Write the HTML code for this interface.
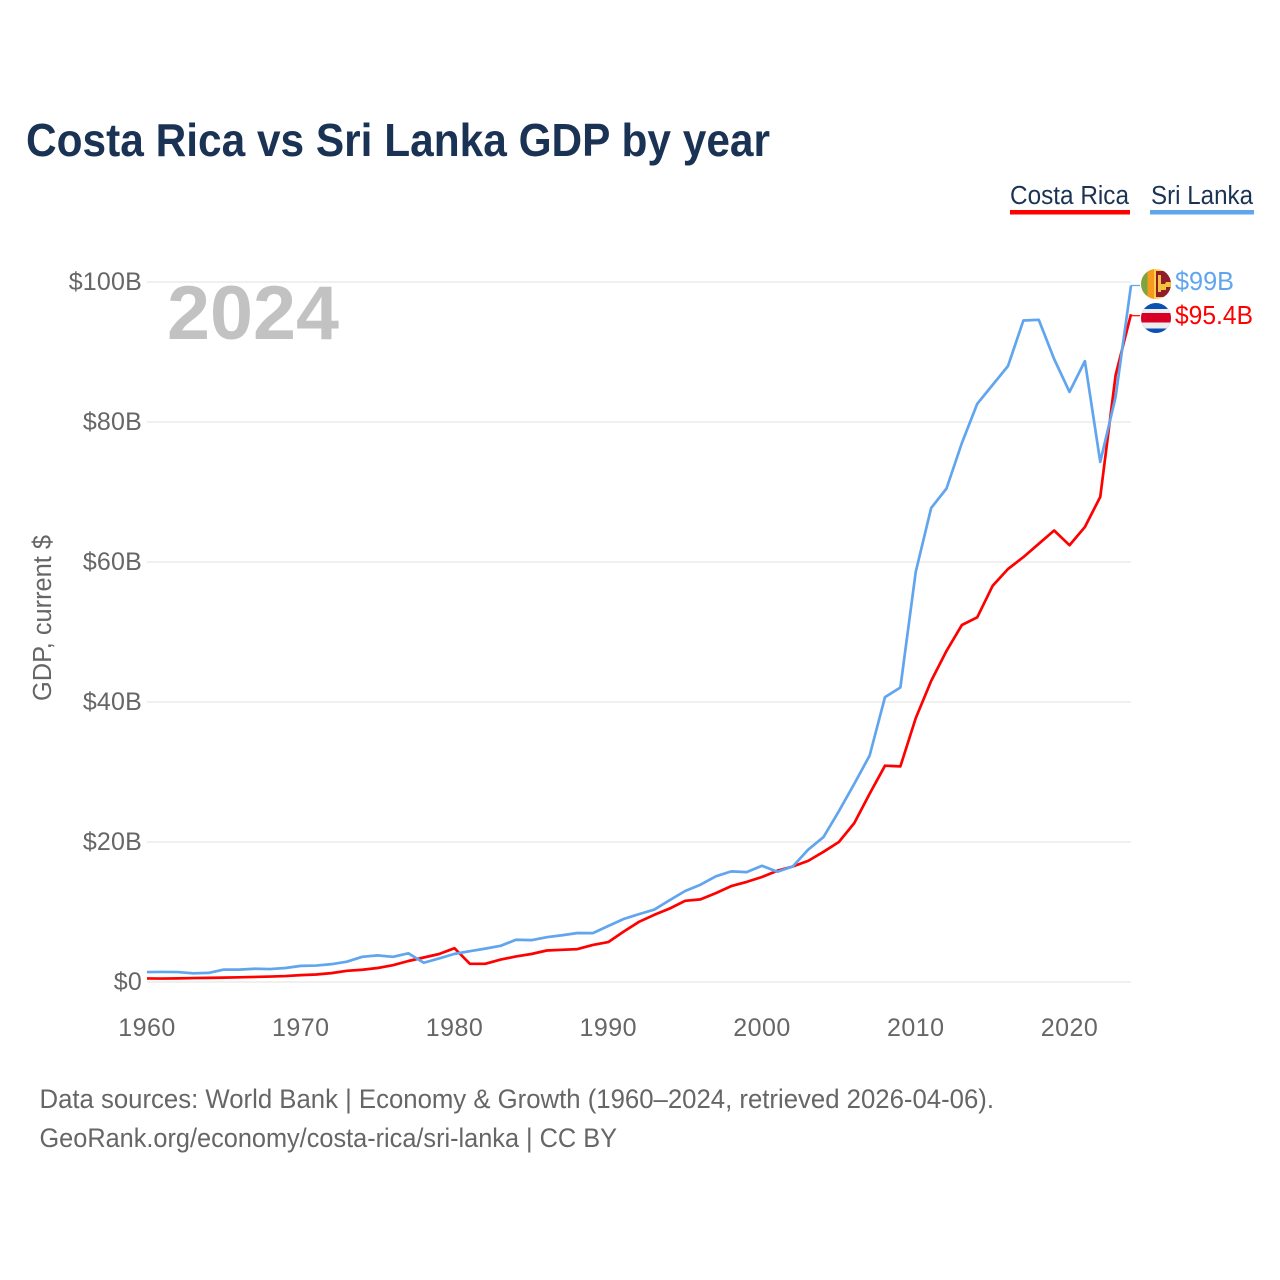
<!DOCTYPE html>
<html lang="en">
<head>
<meta charset="utf-8">
<title>Costa Rica vs Sri Lanka GDP by year</title>
<style>
html,body{margin:0;padding:0;background:#fff;}
svg{display:block;font-family:"Liberation Sans",sans-serif;}
</style>
</head>
<body>
<svg id="chart" xmlns="http://www.w3.org/2000/svg" width="1280" height="1280" viewBox="0 0 1280 1280">
  <rect width="1280" height="1280" fill="#fff"/>
  <text x="26" y="156" font-size="46" font-weight="700" fill="#1a3354" textLength="744" lengthAdjust="spacingAndGlyphs">Costa Rica vs Sri Lanka GDP by year</text>

  <g>
    <text x="1010" y="204" font-size="25.5" fill="#1a3354" textLength="119" lengthAdjust="spacingAndGlyphs">Costa Rica</text>
    <rect x="1010" y="210" width="120" height="4.5" fill="#ff0000"/>
  </g>
  <g>
    <text x="1151" y="204" font-size="25.5" fill="#1a3354" textLength="102" lengthAdjust="spacingAndGlyphs">Sri Lanka</text>
    <rect x="1150" y="210" width="104" height="4.5" fill="#60a5ee"/>
  </g>

  <g id="grid"></g>
  <g id="yticks"></g>
  <g id="xticks"></g>

  <text x="167" y="339" font-size="76" font-weight="700" fill="#c2c2c2" textLength="172" lengthAdjust="spacingAndGlyphs">2024</text>
  <text transform="translate(51,618) rotate(-90)" text-anchor="middle" font-size="25.5" fill="#666" textLength="166" lengthAdjust="spacingAndGlyphs">GDP, current $</text>

  <g id="series"></g>

  <defs>
    <clipPath id="clip-lk"><circle cx="1156" cy="284" r="15"/></clipPath>
    <clipPath id="clip-cr"><circle cx="1156" cy="318" r="15"/></clipPath>
  </defs>
  <g clip-path="url(#clip-lk)">
    <rect x="1140" y="268" width="32" height="32" fill="#ffcf4d"/>
    <rect x="1141" y="268" width="6.5" height="32" fill="#7ca53f"/>
    <rect x="1147.5" y="268" width="6.5" height="32" fill="#f79a1e"/>
    <rect x="1156" y="271" width="15" height="26" fill="#8f1d2c"/>
    <path d="M1158 275h3v9h4l1-2h5v5h-5v3h-5v2h-3z" fill="#f5c23c"/>
  </g>
  <g clip-path="url(#clip-cr)">
    <rect x="1140" y="302" width="32" height="33" fill="#0b50b3"/>
    <rect x="1140" y="309" width="32" height="19.5" fill="#eeeeee"/>
    <rect x="1140" y="313" width="32" height="9.5" fill="#d80027"/>
  </g>

  <text id="label-lk" x="1175" y="290" font-size="25.5" fill="#60a5ee" textLength="59" lengthAdjust="spacingAndGlyphs">$99B</text>
  <text id="label-cr" x="1175" y="324" font-size="25.5" fill="#ff0000" textLength="78" lengthAdjust="spacingAndGlyphs">$95.4B</text>

  <text x="39.5" y="1108" font-size="26.5" fill="#666" textLength="954.5" lengthAdjust="spacingAndGlyphs">Data sources: World Bank | Economy &amp; Growth (1960–2024, retrieved 2026-04-06).</text>
  <text x="39.5" y="1147" font-size="26.5" fill="#666" textLength="577.5" lengthAdjust="spacingAndGlyphs">GeoRank.org/economy/costa-rica/sri-lanka | CC BY</text>
</svg>
<script>
const startYear = 1960;
const costaRica = [0.51,0.49,0.52,0.56,0.59,0.62,0.67,0.72,0.78,0.85,0.98,1.07,1.27,1.6,1.75,2.0,2.4,3.0,3.5,4.0,4.83,2.6,2.6,3.2,3.65,4.0,4.5,4.6,4.7,5.3,5.7,7.2,8.6,9.6,10.5,11.6,11.8,12.7,13.7,14.3,15.0,15.9,16.5,17.3,18.6,20.0,22.7,26.9,30.9,30.8,37.7,43.0,47.3,51.0,52.1,56.6,59.0,60.7,62.6,64.5,62.4,65.0,69.3,86.7,95.4];
const sriLanka = [1.42,1.44,1.42,1.24,1.3,1.77,1.77,1.89,1.85,2.0,2.3,2.35,2.55,2.9,3.6,3.8,3.6,4.1,2.75,3.36,4.02,4.4,4.77,5.17,6.04,5.98,6.4,6.68,7.0,6.98,8.0,9.0,9.7,10.35,11.7,13.0,13.9,15.1,15.8,15.7,16.6,15.75,16.5,18.9,20.7,24.4,28.3,32.35,40.7,42.07,58.6,67.7,70.5,77.0,82.6,85.3,88.0,94.5,94.6,89.0,84.3,88.7,74.3,83.6,99.5];
const yTickValues = [0,20,40,60,80,100];
const yTickLabels = ["$0","$20B","$40B","$60B","$80B","$100B"];
const xTickValues = [1960,1970,1980,1990,2000,2010,2020];

const NS = "http://www.w3.org/2000/svg";
const plotLeft = 147, plotRight = 1131, plotBottom = 982, plotTop = 282;
const endYear = 2024, maxValue = 100;
function xScale(year){ return plotLeft + (year - startYear) * (plotRight - plotLeft) / (endYear - startYear); }
function yScale(v){ return plotBottom - v * (plotBottom - plotTop) / maxValue; }
function make(tag, attrs){
  const el = document.createElementNS(NS, tag);
  for (const k in attrs) el.setAttribute(k, attrs[k]);
  return el;
}

const grid = document.getElementById("grid");
const yticks = document.getElementById("yticks");
yTickValues.forEach(function(v, i){
  const line = make("line", {x1: plotLeft, x2: plotRight, y1: yScale(v), y2: yScale(v), stroke: "#ebebeb", "stroke-width": 1.5});
  
  
  grid.appendChild(line);
  const t = make("text", {x: 142, y: yScale(v) + 8, "text-anchor": "end", "font-size": 25, fill: "#666", "letter-spacing": 0.2});
  t.textContent = yTickLabels[i];
  
  
  yticks.appendChild(t);
});

const xticks = document.getElementById("xticks");
xTickValues.forEach(function(y){
  const t = make("text", {x: xScale(y), y: 1036, "text-anchor": "middle", "font-size": 25, fill: "#666", "letter-spacing": 0.5});
  t.textContent = String(y);
  
  
  xticks.appendChild(t);
});

const seriesGroup = document.getElementById("series");
function drawSeries(values, color, lineName, connectorName, connectorY){
  const pts = values.map(function(v, i){ return xScale(startYear + i).toFixed(2) + "," + yScale(v).toFixed(2); });
  const path = make("polyline", {points: pts.join(" "), fill: "none", stroke: color, "stroke-width": 2.7, "stroke-linejoin": "round"});
  
  
  seriesGroup.appendChild(path);
  const lastX = xScale(startYear + values.length - 1);
  const lastY = yScale(values[values.length - 1]);
  const conn = make("line", {x1: lastX, x2: lastX + 9, y1: lastY + connectorY, y2: lastY + connectorY, stroke: color, "stroke-width": 1.2});
  
  
  seriesGroup.appendChild(conn);
}
drawSeries(costaRica, "#ff0000", "line-costa-rica", "connector-costa-rica", 1.5);
drawSeries(sriLanka, "#60a5ee", "line-sri-lanka", "connector-sri-lanka", 0);
</script>
</body>
</html>
